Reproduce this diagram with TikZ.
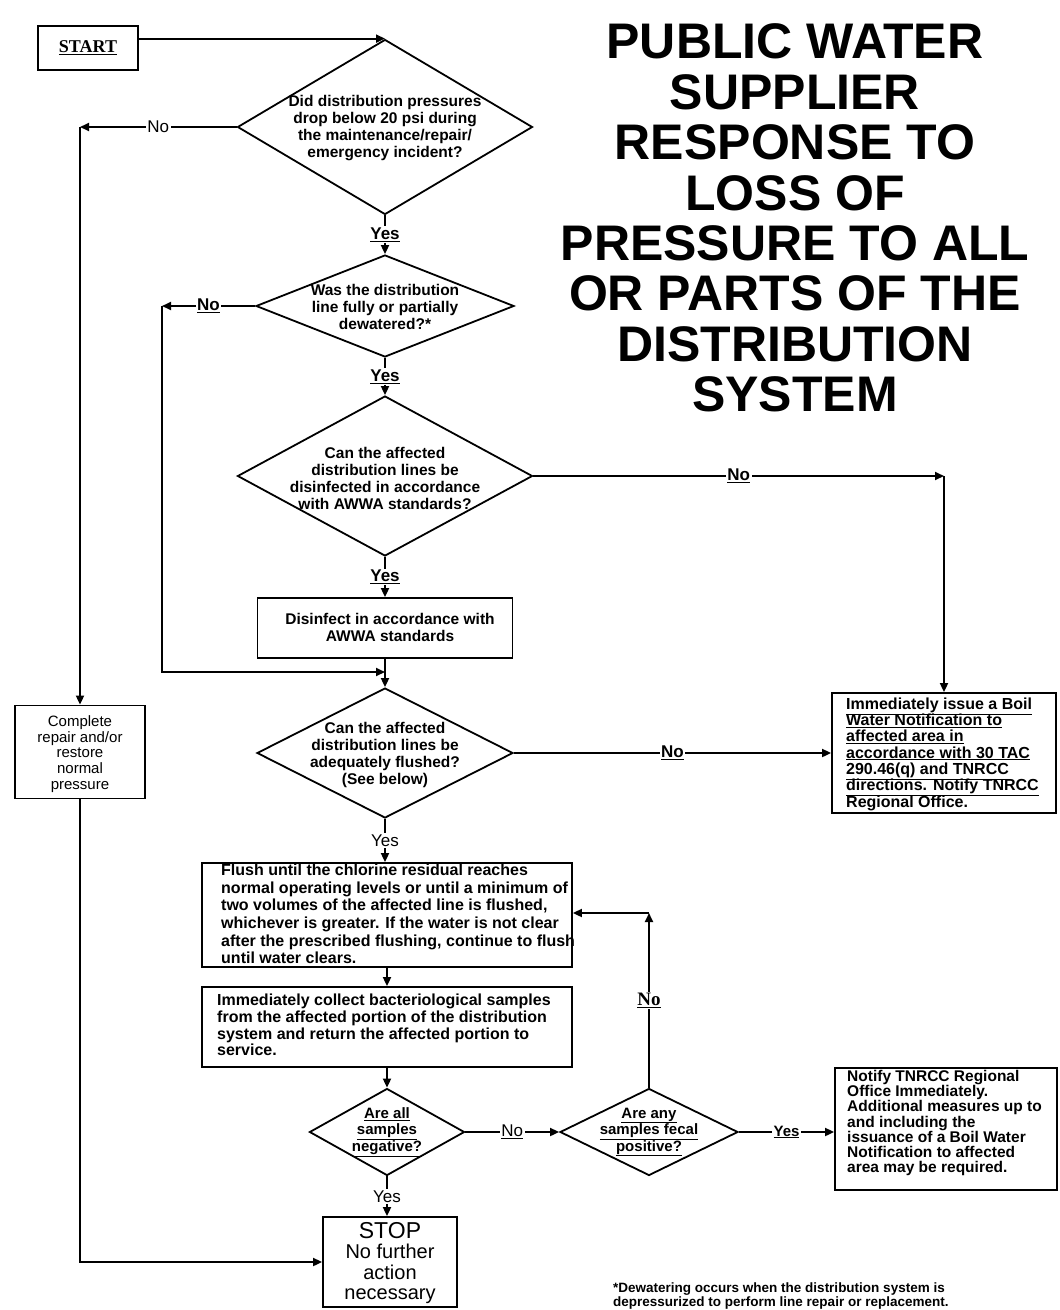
\documentclass[tikz,border=0pt]{standalone}
\usepackage{fontspec}
\setmainfont{Liberation Sans}
\newfontfamily\tnr{Liberation Serif}
\usetikzlibrary{shapes.geometric,arrows.meta}
\newcommand{\fs}[2]{\fontsize{#1}{#2}\selectfont\lineskiplimit=-8pt\relax}
\begin{document}
\begin{tikzpicture}[x=1pt,y=-1pt,
  conn/.style={line width=1.8pt},
  arr/.style={line width=1.8pt,-{Triangle[length=9pt,width=8pt]}},
  box/.style={draw,line width=1.8pt,rectangle,inner sep=0pt},
  dia/.style={draw,diamond,line width=1.8pt,inner sep=0pt},
  dtext/.style={align=center,inner sep=0pt,font=\fs{15.5}{17}\bfseries},
  ltext/.style={anchor=west,align=left,inner sep=0pt},
  lab/.style={fill=white,inner sep=1.5pt,font=\fs{17}{17}\bfseries},
  plab/.style={fill=white,inner sep=1.5pt,font=\fs{17}{17}},
  slab/.style={fill=white,inner sep=1.5pt,font=\tnr\fs{19}{19}\bfseries},
]
\fill[white] (0,0) rectangle (1060,1310);
\path[use as bounding box] (0,0) rectangle (1060,1310);

% title
\node[align=center,inner sep=0pt,font=\fs{50}{50.4}\bfseries] (title) at (795,218)
 {PUBLIC WATER\\SUPPLIER\\RESPONSE TO\\LOSS OF\\PRESSURE TO ALL\\OR PARTS OF THE\\DISTRIBUTION\\SYSTEM};

% start
\node[box,minimum width=100pt,minimum height=44pt,font=\tnr\fs{18}{18}\bfseries] (start) at (88,48) {\underline{START}};

% decision 1
\node[dia,minimum width=295pt,minimum height=175pt] (d1) at (385,127) {};
\node[dtext] (d1t) at (385,128) {Did distribution pressures\\drop below 20 psi during\\the maintenance/repair/\\emergency incident?};

% decision 2
\node[dia,minimum width=258pt,minimum height=102pt] (d2) at (385,306) {};
\node[dtext] (d2t) at (385,307) {Was the distribution\\line fully or partially\\dewatered?*};

% decision 3
\node[dia,minimum width=295pt,minimum height=160pt] (d3) at (385,476) {};
\node[dtext] (d3t) at (385,478) {Can the affected\\distribution lines be\\disinfected in accordance\\with AWWA standards?};

% disinfect
\node[box,minimum width=255pt,minimum height=60pt] (dis) at (385,628) {};
\node[dtext] (dist) at (390,627) {Disinfect in accordance with\\AWWA standards};

% decision 4
\node[dia,minimum width=256pt,minimum height=130pt] (d4) at (385,753) {};
\node[dtext] (d4t) at (385,755) {Can the affected\\distribution lines be\\adequately flushed?\\(See below)};

% complete
\node[box,minimum width=130pt,minimum height=93pt] (comp) at (80,752) {};
\node[align=center,inner sep=0pt,font=\fs{15}{15.8}] (compt) at (80,754) {Complete\\repair and/or\\restore\\normal\\pressure};

% boil water
\node[box,minimum width=224pt,minimum height=120pt] (boil) at (944,753) {};
\node[ltext,font=\fs{16}{16.3}\bfseries] (boilt) at (846,755)
 {\underline{Immediately issue a Boil}\\\underline{Water Notification to}\\\underline{affected area in}\\\underline{accordance with 30 TAC}\\\underline{290.46(q) and TNRCC}\\\underline{directions. Notify TNRCC}\\\underline{Regional Office.}};

% flush
\node[box,minimum width=370pt,minimum height=104pt] (flush) at (387,915) {};
\node[ltext,font=\fs{16}{17.7}\bfseries] (flusht) at (221,914)
 {Flush until the chlorine residual reaches\\normal operating levels or until a minimum of\\two volumes of the affected line is flushed,\\whichever is greater. If the water is not clear\\after the prescribed flushing, continue to flush\\until water clears.};

% collect
\node[box,minimum width=370pt,minimum height=80pt] (coll) at (387,1027) {};
\node[ltext,font=\fs{16}{16.7}\bfseries] (collt) at (217,1025)
 {Immediately collect bacteriological samples\\from the affected portion of the distribution\\system and return the affected portion to\\service.};

% decision 5
\node[dia,minimum width=155pt,minimum height=87pt] (d5) at (387,1132) {};
\node[dtext,font=\fs{15}{16.5}\bfseries] (d5t) at (387,1132) {\underline{Are all}\\\underline{samples}\\\underline{negative?}};

% decision 6
\node[dia,minimum width=178pt,minimum height=87pt] (d6) at (649,1132) {};
\node[dtext,font=\fs{15}{16.5}\bfseries] (d6t) at (649,1132) {\underline{Are any}\\\underline{samples fecal}\\\underline{positive?}};

% notify
\node[box,minimum width=222pt,minimum height=122pt] (notif) at (946,1129) {};
\node[ltext,font=\fs{15.5}{15.2}\bfseries] (notift) at (847,1123)
 {Notify TNRCC Regional\\Office Immediately.\\Additional measures up to\\and including the\\issuance of a Boil Water\\Notification to affected\\area may be required.};

% stop
\node[box,minimum width=134pt,minimum height=90pt] (stop) at (390,1262) {};
\node[align=center,inner sep=0pt,font=\fs{20}{20.5}] (stopt) at (390,1263) {{\fs{23}{20.5}STOP}\\No further\\action\\necessary};

% footnote
\node[anchor=north west,align=left,inner sep=0pt,font=\fs{13.5}{14}\bfseries] (foot) at (613,1283)
 {*Dewatering occurs when the distribution system is\\depressurized to perform line repair or replacement.};

% connectors
\coordinate (c1) at (comp.north |- d1.west);
\coordinate (c2) at (162,306);
\coordinate (c2b) at (162,672);
\coordinate (j4) at (385,672);
\coordinate (c3) at (boil.north |- d3.east);
\coordinate (c6) at (649,913);

\draw[arr] (start.east |- d1.north) -- (d1.north);
\draw[arr] (d1.west) -- node[plab]{No} (c1);
\draw[arr] (c1) -- (comp.north);
\draw[arr] (comp.south) |- (stop.west);

\draw[arr] (d1.south) -- node[lab]{\underline{Yes}} (d2.north);
\draw[arr] (d2.west) -- node[lab]{\underline{No}} (c2);
\draw[arr] (c2) -- (c2b) -- (j4);
\draw[arr] (d2.south) -- node[lab]{\underline{Yes}} (d3.north);
\draw[arr] (d3.south) -- node[lab]{\underline{Yes}} (dis.north);
\draw[arr] (d3.east) -- node[lab]{\underline{No}} (c3);
\draw[arr] (c3) -- (boil.north);
\draw[arr] (dis.south) -- (d4.north);
\draw[arr] (d4.east) -- node[lab]{\underline{No}} (d4.east -| boil.west);
\draw[arr] (d4.south) -- node[plab]{Yes} (d4.south |- flush.north);
\draw[arr] (flush.south) -- (coll.north);
\draw[arr] (coll.south) -- (d5.north);
\draw[arr] (d5.east) -- node[plab]{\underline{No}} (d6.west);
\draw[arr] (d6.east) -- node[lab,font=\fs{15}{15}\bfseries]{\underline{Yes}} (d6.east -| notif.west);
\draw[arr] (d6.north) -- node[slab]{\underline{No}} (c6);
\draw[arr] (c6) -- (c6 -| flush.east);
\draw[arr] (d5.south) -- node[plab]{Yes} (d5.south |- stop.north);
\end{tikzpicture}
\end{document}
